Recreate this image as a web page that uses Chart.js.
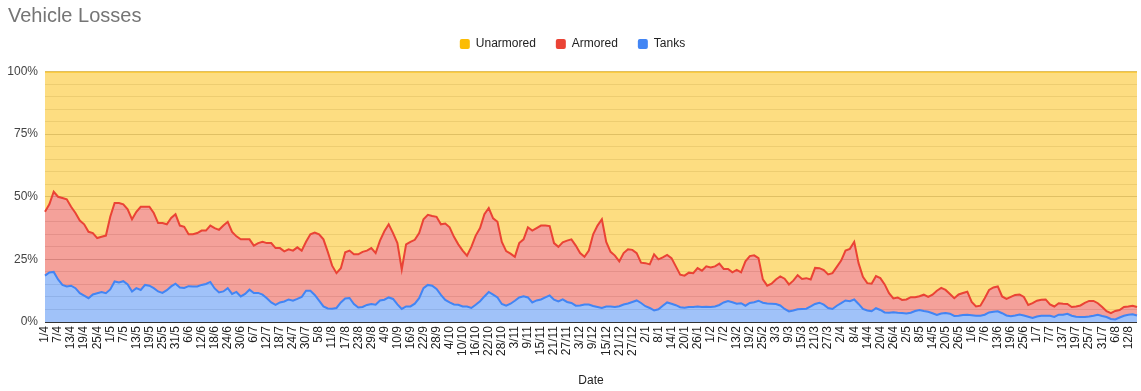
<!DOCTYPE html>
<html>
<head>
<meta charset="utf-8">
<script src="https://cdn.jsdelivr.net/npm/chart.js@4.4.1/dist/chart.umd.min.js"></script>
<style>
  html, body { margin: 0; padding: 0; background: #fff; }
</style>
</head>
<body>
<canvas id="losses" width="1141" height="391"></canvas>
<script>
// one sample every 2 days, starting 1 April 2022
const START = Date.UTC(2022, 3, 1);
const STEP_DAYS = 2;

// share of tanks (%)
const tanks = [
  18.5, 19.8, 20, 17, 14.8, 14.2, 14.5, 13.5, 11.5, 10.5, 9.5, 11, 11.5, 12, 11.5, 13,
  16.2, 15.8, 16.3, 15, 12.2, 13.5, 12.8, 14.8, 14.5, 13.5, 12.2, 11.6, 12.7, 14.2, 15.3, 13.8,
  13.6, 14.3, 14.2, 14.2, 14.8, 15.2, 16, 13.4, 11.8, 12.2, 13.5, 11.2, 12, 10.2, 11.2, 12.9,
  11.6, 11.6, 10.9, 9.5, 7.8, 6.8, 7.8, 8.2, 9, 8.5, 9.2, 10, 12.5, 12.5, 10.8, 8.5,
  6.2, 5.4, 5.3, 5.6, 7.8, 9.4, 9.6, 7.2, 5.8, 6, 6.8, 7.2, 6.9, 8.6, 8.9, 9.8,
  9.2, 7, 5.2, 6.2, 6.2, 7.3, 9.5, 13.5, 14.8, 14.5, 13.2, 10.8, 8.8, 7.8, 7, 6.9,
  6.2, 6.2, 5.6, 6.9, 8.3, 10.2, 12, 10.9, 9.8, 7.2, 6.5, 7.3, 8.5, 9.8, 10.3, 9.8,
  7.8, 8.6, 9, 9.8, 10.6, 8.9, 8.2, 9, 8, 7.6, 6.5, 6.6, 7, 7, 6.4, 6,
  5.6, 6.2, 6.2, 6, 6.3, 7, 7.4, 8, 8.6, 7.6, 6.3, 5.6, 4.6, 5.1, 6.5, 7.8,
  7.3, 6.7, 5.9, 5.7, 6, 6, 6.2, 6, 6.1, 6, 6.2, 6.8, 7.8, 8.4, 7.9, 7.3,
  7.5, 6.5, 7.6, 7.9, 8.5, 7.7, 7.4, 7.3, 7.2, 6.6, 5.2, 4.2, 4.6, 5.1, 5.2, 5.3,
  6.2, 7.2, 7.7, 6.9, 5.6, 5.2, 6.5, 7.5, 8.6, 8.3, 9, 7.2, 5.2, 4.6, 4.3, 5.5,
  4.8, 3.8, 3.7, 3.9, 3.7, 3.6, 3.4, 3.7, 4.4, 4.8, 4.4, 4.1, 3.5, 2.8, 3.4, 3.6,
  3.3, 2.4, 2.5, 2.8, 2.9, 2.7, 2.5, 2.5, 2.9, 3.8, 4.1, 4.3, 3.5, 2.6, 2.3, 2.6,
  3, 2.6, 2.1, 1.6, 2.2, 2.5, 2.5, 2.5, 2, 2.9, 2.9, 3.3, 2.5, 2.1, 2, 2,
  2.2, 2.5, 2.9, 2.4, 2, 1.2, 1, 1.8, 2.5, 2.9, 3.1, 2.6
];

// tanks + armored (%)
const armoredTop = [
  44, 47, 52, 50, 49.5, 49, 46, 43.5, 40.5, 39, 36, 35.5, 33.5, 34, 34.5, 42,
  47.5, 47.5, 47, 45, 41, 44, 46, 46, 46, 43.5, 39.5, 39.5, 39, 41.5, 43, 38.5,
  38, 35, 35, 35.5, 36.5, 36.5, 38.5, 37.5, 36.8, 38.5, 40, 36, 34.2, 33, 33, 33,
  30.5, 31.5, 32, 31.5, 31.5, 29.5, 29.5, 28.2, 29, 28.5, 29.8, 28.5, 32, 35, 35.7, 35,
  33, 28, 22.5, 19.5, 21.5, 27.8, 28.5, 27, 27, 28, 28.5, 29.5, 27.5, 32.5, 36.2, 39,
  35.5, 31.5, 21, 31, 32, 32.8, 35.5, 41, 42.8, 42.3, 42, 39, 39.3, 37.8, 34, 31,
  28.5, 26.5, 30, 34.5, 37.5, 43, 45.5, 41.4, 40, 32, 28.3, 27.3, 26, 31.5, 33, 37.8,
  36.5, 37.5, 38.5, 38.5, 38.3, 31.5, 30, 31.8, 32.5, 33, 30.5, 27.5, 26, 28.5, 35, 38.5,
  41, 32, 28, 26.5, 24.2, 27.5, 29, 28.8, 27.5, 23.7, 23.5, 23, 27, 25, 25.8, 26.8,
  25.5, 22.2, 18.9, 18.5, 19.7, 19.5, 21.5, 20.5, 22.2, 21.8, 22.2, 23.3, 21.2, 21.2, 19.8, 20.8,
  19.8, 24.2, 26.3, 26.6, 25.5, 17, 14.5, 15.3, 17, 18.2, 17.3, 15, 16.5, 18.7, 17.2, 17.5,
  17, 21.6, 21.5, 20.7, 19, 19.5, 22, 24.5, 28.5, 29.2, 32, 23.5, 18, 15.5, 15.3, 18.3,
  17.5, 15, 11.5, 9.4, 9.8, 8.8, 9, 9.9, 9.9, 10.3, 10.9, 10, 10.9, 12.5, 13.6, 12.8,
  11.2, 9.5, 11, 11.6, 12.1, 8, 6.2, 6.5, 9.5, 12.8, 13.8, 14.2, 10.2, 9.2, 10, 10.8,
  11, 10, 6.8, 7.5, 8.5, 8.9, 9, 7, 6.2, 7.5, 7.3, 7.2, 6, 6.2, 6.6, 7.6,
  8.4, 8.4, 7.5, 6, 4.3, 3.5, 4.4, 4.8, 6, 6.2, 6.5, 6
];

const labels = tanks.map((_, i) => {
  const d = new Date(START + i * STEP_DAYS * 86400000);
  return d.getUTCDate() + '/' + (d.getUTCMonth() + 1);
});

// 100% stack: unarmored fills everything above the red line
const fullStack = labels.map(() => 100);

const FONT = "'Liberation Sans', Arial, sans-serif";
const YELLOW = '#fbbc04';
const RED = '#ea4335';
const BLUE = '#4285f4';

new Chart(document.getElementById('losses'), {
  type: 'line',
  data: {
    labels,
    datasets: [
      { label: 'Unarmored', data: fullStack, borderColor: YELLOW, backgroundColor: 'rgba(251,188,4,0.5)', fill: 1 },
      { label: 'Armored', data: armoredTop, borderColor: RED, backgroundColor: 'rgba(234,67,53,0.5)', fill: 2 },
      { label: 'Tanks', data: tanks, borderColor: BLUE, backgroundColor: 'rgba(66,133,244,0.5)', fill: 'origin' }
    ]
  },
  options: {
    responsive: false,
    animation: false,
    layout: { padding: { left: 8, right: 4, top: 0, bottom: 0 } },
    elements: {
      line: { borderWidth: 2, tension: 0 },
      point: { radius: 0, hoverRadius: 0 }
    },
    plugins: {
      filler: { drawTime: 'beforeDatasetsDraw' },
      tooltip: { enabled: false },
      title: {
        display: true,
        text: 'Vehicle Losses',
        align: 'start',
        color: '#757575',
        font: { family: FONT, size: 20, weight: 'normal' },
        padding: { top: 4, bottom: -10 }
      },
      subtitle: {
        // spacer between legend and plot
        display: true,
        text: ' ',
        weight: 500,
        font: { size: 10, lineHeight: 1.15 },
        padding: 0
      },
      legend: {
        position: 'top',
        labels: {
          color: '#222',
          font: { family: FONT, size: 12 },
          boxWidth: 10,
          boxHeight: 10,
          padding: 20,
          useBorderRadius: true,
          borderRadius: 2,
          generateLabels: (chart) =>
            Chart.defaults.plugins.legend.labels.generateLabels(chart).map(l => ({
              ...l,
              fillStyle: chart.data.datasets[l.datasetIndex].borderColor,
              strokeStyle: chart.data.datasets[l.datasetIndex].borderColor,
              lineWidth: 0
            }))
        }
      }
    },
    scales: {
      x: {
        offset: false,
        grid: { display: false, drawTicks: false },
        border: { display: false },
        ticks: {
          autoSkip: false, minRotation: 90, maxRotation: 90, padding: 4,
          color: '#222', font: { family: FONT, size: 12 },
          callback: (v, i) => i % 3 === 0 ? labels[i] : ''
        },
        title: {
          display: true, text: 'Date', color: '#222',
          font: { family: FONT, size: 12 }, padding: { top: 0, bottom: 3 }
        },
        afterFit: (s) => { s.height = 69; s.paddingLeft = 0; s.paddingRight = 0; }
      },
      y: {
        min: 0, max: 100,
        border: { display: false },
        grid: {
          drawTicks: false,
          color: (ctx) => ctx.tick.value === 0 ? '#333333' : (ctx.tick.value % 25 === 0 ? '#c4c4c4' : '#dedede')
        },
        ticks: {
          stepSize: 5, autoSkip: false, padding: 7,
          color: '#444', font: { family: FONT, size: 12 },
          callback: (v) => v % 25 === 0 ? v + '%' : ''
        },
        afterFit: (s) => { s.width = 37; }
      }
    }
  }
});
</script>
</body>
</html>
